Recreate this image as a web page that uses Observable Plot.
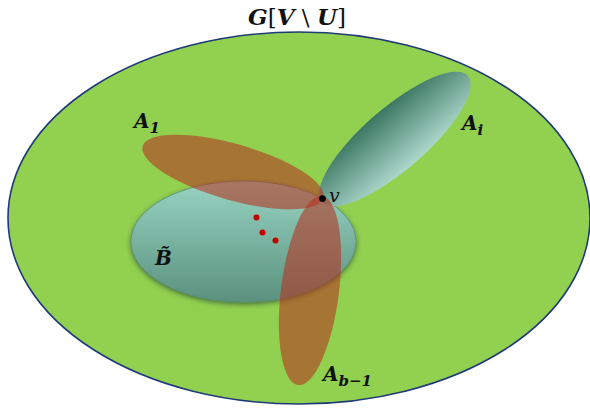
<!DOCTYPE html>
<html><head><meta charset="utf-8">
<script src="https://cdn.jsdelivr.net/npm/d3@7"></script>
<script src="https://cdn.jsdelivr.net/npm/@observablehq/plot@0.6"></script>
<style>html,body{margin:0;padding:0;background:#fff;overflow:hidden}</style>
</head><body><div id="chart"></div>
<script>
// Ellipses (diagram sets): name, centre, semi-axes, rotation (degrees)
const ellipseNames = ["G", "B", "Ai", "A1", "Ab1"];
const ellipseCx = [299, 243.5, 395, 233, 310];
const ellipseCy = [218, 241.5, 139, 172, 290.5];
const ellipseRx = [291, 112.5, 96.5, 94, 95.3];
const ellipseRy = [186, 60.5, 31, 28, 29];
const ellipseAngle = [0, 0, -40.8, 16, 97.2];

// Points: vertex v and the three red vertices inside B
const pointNames = ["v", "p1", "p2", "p3"];
const pointX = [322, 256, 262, 275];
const pointY = [198, 217, 232, 240];

// Labels
const labelMain = ["G[V \\ U]", "A", "A", "B\u0303", "A", "v"];
const labelSub = ["", "1", "i", "", "b\u22121", ""];
const labelX = [297, 134, 462, 155, 323, 329];
const labelY = [25, 128, 130, 265, 381, 202];

const ns = "http://www.w3.org/2000/svg";
function el(tag, attrs) {
  const e = document.createElementNS(ns, tag);
  for (const k in attrs) e.setAttribute(k, attrs[k]);
  return e;
}

const styles = {
  G: {fill: "#92D050", stroke: "#1F3A78", "stroke-width": 1.6},
  B: {fill: "url(#gradB)", stroke: "#5a8f7d", "stroke-width": 0.8, filter: "url(#bshadow)"},
  Ai: {fill: "url(#gradAi)"},
  A1: {fill: "#B5321F", "fill-opacity": 0.58},
  Ab1: {fill: "#B5321F", "fill-opacity": 0.58}
};

function defsMark() {
  const defs = el("defs", {});
  const gB = el("linearGradient", {id: "gradB", x1: 0, y1: 0, x2: 0, y2: 1});
  gB.append(el("stop", {offset: "0%", "stop-color": "#98D3C1"}));
  gB.append(el("stop", {offset: "100%", "stop-color": "#5B917F"}));
  const gA = el("linearGradient", {id: "gradAi", x1: 0, y1: 0, x2: 0, y2: 1});
  gA.append(el("stop", {offset: "0%", "stop-color": "#3B7763"}));
  gA.append(el("stop", {offset: "100%", "stop-color": "#ADD8CB"}));
  const f = el("filter", {id: "bshadow", x: "-20%", y: "-20%", width: "140%", height: "150%"});
  f.append(el("feDropShadow", {dx: 0, dy: 2, stdDeviation: 2.5, "flood-color": "#1f3a2e", "flood-opacity": 0.65}));
  defs.append(gB, gA, f);
  return defs;
}

function ellipsesMark(index, scales) {
  const {x, y} = scales;
  const g = el("g", {});
  ellipseNames.forEach((name, i) => {
    const cx = x(ellipseCx[i]), cy = y(ellipseCy[i]);
    const rx = Math.abs(x(ellipseCx[i] + ellipseRx[i]) - cx);
    const ry = Math.abs(y(ellipseCy[i] + ellipseRy[i]) - cy);
    const e = el("ellipse", {cx: 0, cy: 0, rx, ry,
      transform: `translate(${cx},${cy}) rotate(${ellipseAngle[i]})`, ...styles[name]});
    g.append(e);
  });
  return g;
}

function labelsMark(index, scales) {
  const {x, y} = scales;
  const g = el("g", {"font-family": "'DejaVu Serif', serif", fill: "#111"});
  labelMain.forEach((txt, i) => {
    const px = x(labelX[i]), py = y(labelY[i]);
    if (i === 0) {
      const t = el("text", {x: px, y: py, "text-anchor": "middle", "font-size": 23});
      const parts = [["G", true], ["[", false], ["V", true], [" \\ ", false], ["U", true], ["]", false]];
      for (const [s, b] of parts) {
        const ts = el("tspan", b ? {"font-weight": "bold", "font-style": "italic"} : {});
        ts.textContent = s;
        t.append(ts);
      }
      g.append(t);
      return;
    }
    const isV = txt === "v";
    const t = el("text", {x: px, y: py, "text-anchor": "start", "font-size": isV ? 19 : 20,
      "font-weight": isV ? "normal" : "bold", "font-style": "italic"});
    const m = el("tspan", {});
    m.textContent = txt;
    t.append(m);
    if (labelSub[i]) {
      const s = el("tspan", {dy: 5, "font-size": 15});
      s.textContent = labelSub[i];
      t.append(s);
    }
    g.append(t);
  });
  return g;
}

const chart = Plot.plot({
  width: 590,
  height: 409,
  margin: 0,
  x: {domain: [0, 590], axis: null},
  y: {domain: [409, 0], axis: null},
  style: {background: "white", overflow: "visible"},
  marks: [
    defsMark,
    ellipsesMark,
    Plot.dot(pointNames, {
      x: (d, i) => pointX[i],
      y: (d, i) => pointY[i],
      r: (d, i) => (i === 0 ? 5 : 4),
      fill: (d, i) => (i === 0 ? "#000000" : "#C00000"),
      stroke: "none"
    }),
    labelsMark
  ]
});
document.getElementById("chart").append(chart);
</script>
</body></html>
